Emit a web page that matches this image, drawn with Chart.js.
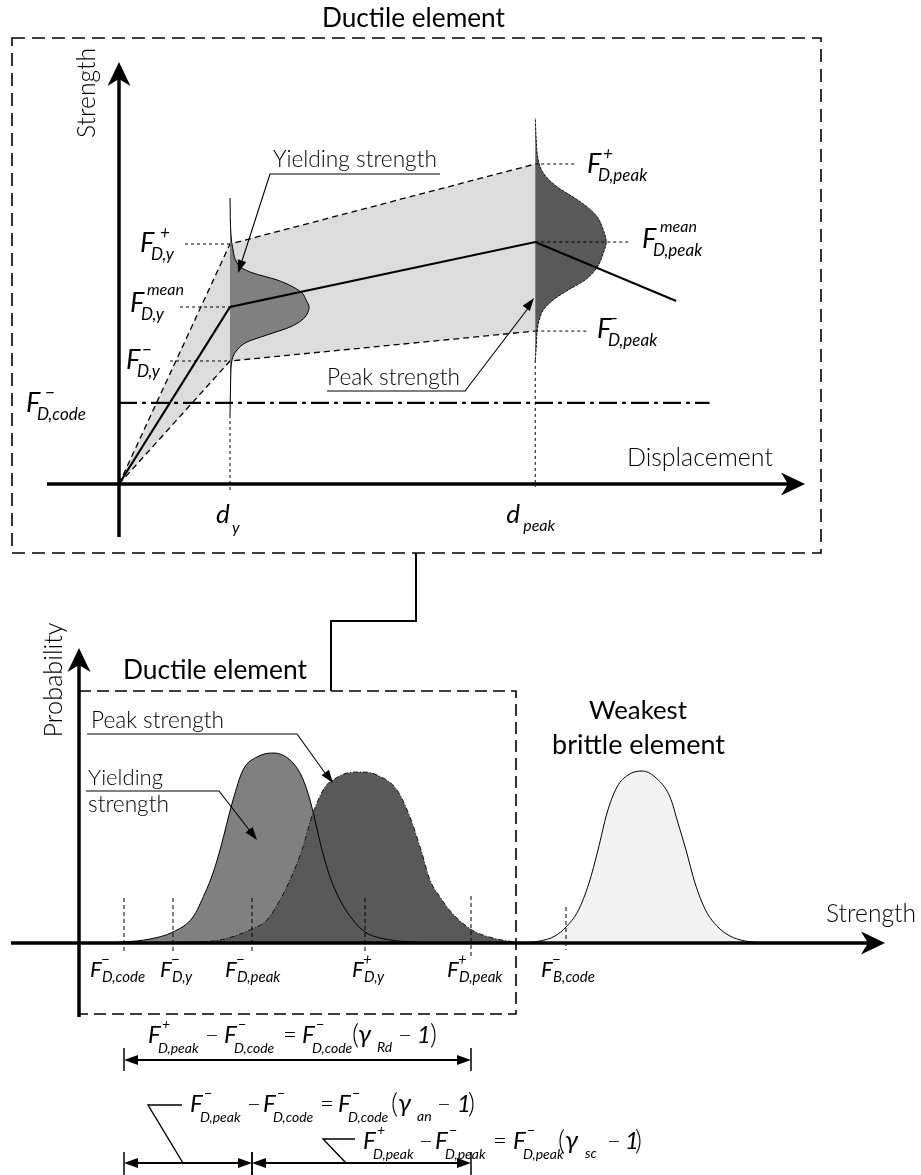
<!DOCTYPE html>
<html><head><meta charset="utf-8">
<script src="https://cdn.jsdelivr.net/npm/chart.js@4.4.1/dist/chart.umd.min.js"></script>
<style>html,body{margin:0;padding:0;background:#fff;}canvas{display:block;}</style>
</head><body>
<canvas id="c" width="921" height="1175"></canvas>
<script>
// ================= DATA =================
// --- Upper diagram: force-displacement (displacement units, strength units) ---
const dY = 1.0;            // d_y
const dPeak = 3.75;        // d_peak
const backboneDisp = [0, 1.0, 3.75, 5.02];
const backboneStrength = [0, 1.0, 1.367, 1.034];
const boundDisp = [0, 1.0, 3.75];
const upperBoundStrength = [0, 1.356, 1.808];   // F+_D,y , F+_D,peak
const lowerBoundStrength = [0, 0.695, 0.864];   // F-_D,y , F-_D,peak
const codeStrength = 0.458;                     // F-_D,code
const codeLineDisp = [0, 5.32];
// yielding-strength distribution drawn at d_y (strength level, density width)
const yieldTopLevels = [0.390,0.588,0.701,0.757,0.802,0.842,0.887,0.927,0.960,1.000,1.040,1.079,1.113,1.153,1.192,1.220,1.249,1.322,1.407,1.616];
const yieldTopWidths = [0,0.006,0.018,0.063,0.153,0.333,0.541,0.649,0.694,0.712,0.685,0.649,0.568,0.423,0.207,0.108,0.063,0.027,0.009,0];
// peak-strength distribution drawn at d_peak
const peakTopLevels = [0.701,0.774,0.870,0.927,0.983,1.040,1.096,1.153,1.226,1.305,1.367,1.435,1.508,1.565,1.621,1.678,1.757,1.831,1.944,2.068];
const peakTopWidths = [0,0.009,0.018,0.036,0.072,0.162,0.297,0.450,0.559,0.613,0.640,0.613,0.559,0.468,0.342,0.198,0.072,0.027,0.009,0];

// --- Lower diagram: probability vs strength ---
const yieldBotX = [0.21,0.44,0.71,0.94,1.14,1.26,1.34,1.41,1.54,1.64,1.78,1.94,2.11,2.23,2.31,2.38,2.43,2.51,2.61,2.74,2.86,3.01,3.31,3.61];
const yieldBotP = [0,0.005,0.02,0.055,0.13,0.25,0.35,0.465,0.715,0.865,0.93,0.95,0.915,0.83,0.715,0.57,0.465,0.33,0.215,0.115,0.055,0.025,0.005,0];
const peakBotX = [0.71,1.11,1.41,1.73,1.88,2.01,2.11,2.23,2.34,2.46,2.54,2.68,2.83,2.98,3.18,3.31,3.42,3.51,3.61,3.73,3.93,4.14,4.37,4.61];
const peakBotP = [0,0.005,0.015,0.07,0.115,0.215,0.315,0.465,0.65,0.78,0.815,0.85,0.855,0.84,0.765,0.63,0.465,0.315,0.23,0.15,0.065,0.025,0.005,0];
const brittleX = [4.37,4.61,4.76,4.87,4.99,5.10,5.19,5.28,5.38,5.49,5.63,5.76,5.91,5.99,6.07,6.16,6.27,6.39,6.51,6.66,6.91];
const brittleP = [0,0.01,0.035,0.08,0.16,0.30,0.465,0.65,0.78,0.84,0.86,0.83,0.73,0.60,0.465,0.30,0.16,0.08,0.035,0.01,0];
// characteristic strengths on the lower axis
const markerNames = ['F-D,code','F-D,y','F-D,peak','F+D,y','F+D,peak','F-B,code'];
const markerStrength = [0.45, 0.94, 1.73, 2.86, 3.92, 4.87];

// ================= LAYOUT =================
const CW = 921, CH = 1175;
const FONT = 'Lato, "Open Sans", "DejaVu Sans", sans-serif';
const MW = 400; // weight of italic math text
const topO = {x:119, y:484}, topU = {x:111, y:177};
const botO = {x:79, y:943}, botU = {x:100, y:200};

const pts = (xs, ys) => xs.map((x,i)=>({x, y:ys[i]}));
const T = {xAxisID:'xT', yAxisID:'yT'}, B = {xAxisID:'xB', yAxisID:'yB'};
const K = '#000';

const leaderTop = [
  {s:upperBoundStrength[1], from:0.595, to:dY},
  {s:backboneStrength[1], from:0.55, to:dY},
  {s:lowerBoundStrength[1], from:0.46, to:dY},
  {s:upperBoundStrength[2], from:dPeak, to:4.126},
  {s:backboneStrength[2], from:dPeak, to:4.60},
  {s:lowerBoundStrength[2], from:dPeak, to:4.216}
];
const leaderData = [];
leaderTop.forEach(l=>{leaderData.push({x:l.from,y:l.s},{x:l.to,y:l.s},{x:l.to,y:null});});
const dropData = [
  {x:dY, y:yieldTopLevels[0]}, {x:dY, y:-0.034}, {x:dY, y:null},
  {x:dPeak, y:peakTopLevels[0]}, {x:dPeak, y:-0.017}
];
const markerData = [];
markerStrength.forEach((v,i)=>{
  const top = i===4 ? 0.235 : (i===5 ? 0.18 : 0.225);
  const bot = i===4 ? -0.07 : (i===5 ? -0.035 : -0.045);
  markerData.push({x:v,y:top},{x:v,y:bot},{x:v,y:null});
});

const datasets = [
  {...T, data:pts(boundDisp, upperBoundStrength), fill:'+1', backgroundColor:'#dcdcdc', borderColor:K, borderWidth:1.3, borderDash:[6,4]},
  {...T, data:pts(boundDisp, lowerBoundStrength), fill:false, borderColor:K, borderWidth:1.3, borderDash:[6,4]},
  {...T, data:pts(codeLineDisp, [codeStrength, codeStrength]), fill:false, borderColor:K, borderWidth:2.2, borderDash:[18,5,4,5]},
  {...T, indexAxis:'y', data:yieldTopLevels.map((s,i)=>({x:dY+yieldTopWidths[i], y:s})), fill:{value:dY}, backgroundColor:'#808080', borderColor:K, borderWidth:1, cubicInterpolationMode:'monotone'},
  {...T, indexAxis:'y', data:peakTopLevels.map((s,i)=>({x:dPeak+peakTopWidths[i], y:s})), fill:{value:dPeak}, backgroundColor:'#595959', borderColor:'#111', borderWidth:1, borderDash:[3,1], cubicInterpolationMode:'monotone'},
  {...T, data:dropData, fill:false, borderColor:K, borderWidth:1, borderDash:[3,3]},
  {...T, data:leaderData, fill:false, borderColor:K, borderWidth:1, borderDash:[3,3]},
  {...T, data:pts(backboneDisp, backboneStrength), fill:false, borderColor:K, borderWidth:2.2},
  {...B, data:pts(yieldBotX, yieldBotP), fill:'origin', backgroundColor:'#808080', borderWidth:0, borderColor:'rgba(0,0,0,0)', cubicInterpolationMode:'monotone'},
  {...B, data:pts(peakBotX, peakBotP), fill:'origin', backgroundColor:'#595959', borderColor:'#111', borderWidth:1, borderDash:[5,2,1,2], cubicInterpolationMode:'monotone'},
  {...B, data:pts(yieldBotX, yieldBotP), fill:false, borderColor:K, borderWidth:1, cubicInterpolationMode:'monotone'},
  {...B, data:pts(brittleX, brittleP), fill:'origin', backgroundColor:'#f2f2f2', borderColor:K, borderWidth:1, cubicInterpolationMode:'monotone'},
  {...B, data:markerData, fill:false, borderColor:K, borderWidth:1, borderDash:[4,3]}
];
datasets.forEach((d,i)=>{ d.order = -i; d.pointRadius = 0; d.pointHoverRadius = 0; });

// ================= DRAW HELPERS =================
function fitFont(ctx, str, w, weight, italic){
  ctx.font = `${italic?'italic ':''}${weight} 100px ${FONT}`;
  const m = ctx.measureText(str).width;
  return `${italic?'italic ':''}${weight} ${(100*w/m).toFixed(2)}px ${FONT}`;
}
function txt(ctx, str, x, b, w, weight, align){
  ctx.save(); ctx.font = fitFont(ctx, str, w, weight, false);
  ctx.textAlign = align||'left'; ctx.fillStyle = '#000'; ctx.fillText(str, x, b); ctx.restore();
}
function vtxt(ctx, str, bx, cy, w, weight){
  ctx.save(); ctx.translate(bx, cy); ctx.rotate(-Math.PI/2);
  ctx.font = fitFont(ctx, str, w, weight, false); ctx.textAlign='center'; ctx.fillStyle='#000';
  ctx.fillText(str, 0, 0); ctx.restore();
}
function it(ctx, str, x, b, size, weight){
  ctx.font = `italic ${weight||MW} ${size}px ${FONT}`; ctx.fillText(str, x, b);
}
function up(ctx, str, x, b, size){
  ctx.font = `300 ${size}px ${FONT}`; ctx.fillText(str, x, b);
}
function polyline(ctx, p, w, dash){
  ctx.save(); ctx.beginPath(); ctx.lineWidth = w; ctx.strokeStyle='#000'; ctx.setLineDash(dash||[]);
  ctx.moveTo(p[0][0], p[0][1]); for (let i=1;i<p.length;i++) ctx.lineTo(p[i][0], p[i][1]);
  ctx.stroke(); ctx.restore();
}
function head(ctx, tip, from, len, hw, notch){
  const dx = tip[0]-from[0], dy = tip[1]-from[1], L = Math.hypot(dx,dy);
  const ux = dx/L, uy = dy/L, nx = -uy, ny = ux;
  const bx = tip[0]-ux*len, by = tip[1]-uy*len;
  ctx.save(); ctx.fillStyle='#000'; ctx.beginPath();
  ctx.moveTo(tip[0], tip[1]);
  ctx.lineTo(bx+nx*hw, by+ny*hw);
  ctx.lineTo(tip[0]-ux*(len-(notch||0)), tip[1]-uy*(len-(notch||0)));
  ctx.lineTo(bx-nx*hw, by-ny*hw);
  ctx.closePath(); ctx.fill(); ctx.restore();
}
function arrowAxis(ctx, from, tip){
  const dx = tip[0]-from[0], dy = tip[1]-from[1], L = Math.hypot(dx,dy);
  const end = [tip[0]-dx/L*12, tip[1]-dy/L*12];
  polyline(ctx, [from, end], 3.5);
  head(ctx, tip, from, 24, 11.5, 7);
}
function Flab(ctx, x, b, sup, sub, c){
  ctx.fillStyle='#000';
  it(ctx, 'F', x, b, c.F);
  it(ctx, sub, x+c.subDx, b+c.subDy, c.s);
  if (sup === 'mean') it(ctx, sup, x+(c.meanDx||17), b+(c.meanDy||-16), c.mean||16);
  else it(ctx, sup, x+(c.supDx), b+c.supDy, c.s);
}
function dim(ctx, x1, x2, y, t1, t2){
  polyline(ctx, [[x1+8,y],[x2-8,y]], 2);
  head(ctx, [x1,y], [x2,y], 14, 5, 0);
  head(ctx, [x2,y], [x1,y], 14, 5, 0);
  polyline(ctx, [[x1,t1],[x1,t2]], 1.5);
  polyline(ctx, [[x2,t1],[x2,t2]], 1.5);
}

const annot = {
  id:'annot',
  afterDatasetsDraw(chart){
    const ctx = chart.ctx, s = chart.scales;
    const X = v=>s.xT.getPixelForValue(v), Y = v=>s.yT.getPixelForValue(v);
    const XB = v=>s.xB.getPixelForValue(v), YB = v=>s.yB.getPixelForValue(v);
    ctx.save();
    ctx.fillStyle = '#000';
    // frames & connector
    ctx.lineWidth = 1.6; ctx.strokeStyle='#000'; ctx.setLineDash([13,7]);
    ctx.strokeRect(12, 38, 809, 515);
    ctx.setLineDash([12,6]); ctx.beginPath();
    ctx.moveTo(XB(0), 691); ctx.lineTo(516, 691); ctx.lineTo(516, 1014); ctx.lineTo(XB(0), 1014); ctx.stroke();
    ctx.setLineDash([]);
    polyline(ctx, [[416,553],[416,621],[331,621],[331,691]], 2);
    // axes
    const ox = X(0), oy = Y(0);
    arrowAxis(ctx, [ox, 537], [ox, 62]);
    arrowAxis(ctx, [47, oy], [805, oy]);
    const bx = XB(0), by = YB(0);
    arrowAxis(ctx, [bx, 1017], [bx, 648]);
    arrowAxis(ctx, [11, by], [885, by]);
    // plain texts
    txt(ctx, 'Ductile element', 322, 27, 183, 400);
    vtxt(ctx, 'Strength', 95, 93, 90, 300);
    txt(ctx, 'Displacement', 627, 466, 146, 300);
    txt(ctx, 'Yielding strength', 273, 167, 164, 300);
    txt(ctx, 'Peak strength', 327, 385, 133, 300);
    vtxt(ctx, 'Probability', 62, 680, 115, 300);
    txt(ctx, 'Ductile element', 123, 679, 184, 400);
    txt(ctx, 'Peak strength', 91, 728, 133, 300);
    txt(ctx, 'Yielding', 88, 785, 75, 300);
    txt(ctx, 'strength', 88, 812, 81, 300);
    txt(ctx, 'Weakest', 638, 719, 98, 400, 'center');
    txt(ctx, 'brittle element', 638.5, 754, 173, 400, 'center');
    txt(ctx, 'Strength', 826, 922, 90, 300);
    // callouts
    polyline(ctx, [[440,174],[270,174],[X(1.072)+3,Y(1.192)-9]], 1.1);
    head(ctx, [X(1.072),Y(1.192)], [270,174], 13, 4.5, 0);
    polyline(ctx, [[327,391],[465,391],[X(3.739)-5,Y(1.051)+9]], 1.1);
    head(ctx, [X(3.739),Y(1.051)], [465,391], 13, 4.5, 0);
    polyline(ctx, [[87,734],[297,734],[325,773]], 1.1);
    head(ctx, [333,783], [297,734], 13, 4.5, 0);
    polyline(ctx, [[86,791],[219,791],[250,831]], 1.1);
    head(ctx, [257,840], [219,791], 13, 4.5, 0);
    // d labels
    ctx.fillStyle='#000';
    it(ctx, 'd', X(dY)-14, 523, 26); it(ctx, 'y', X(dY)+2, 533, 16);
    it(ctx, 'd', X(dPeak)-29, 523, 26); it(ctx, 'peak', X(dPeak)-12, 531, 16);
    // F labels (upper)
    const ct = {F:27, s:17, subDx:11, subDy:8, supDy:-14, mean:16, meanDy:-17};
    Flab(ctx, 140, 252, '+', 'D,y', {...ct, supDx:20});
    Flab(ctx, 130, 312, 'mean', 'D,y', {...ct, meanDx:17});
    Flab(ctx, 126, 369, '−', 'D,y', {...ct, supDx:16});
    Flab(ctx, 26, 412, '−', 'D,code', {...ct, supDx:19});
    Flab(ctx, 587, 173, '+', 'D,peak', {...ct, supDx:16});
    Flab(ctx, 642, 248, 'mean', 'D,peak', {...ct, meanDx:18, meanDy:-16});
    Flab(ctx, 597, 338, '−', 'D,peak', {...ct, supDx:11});
    // F labels (lower axis)
    const cb = {F:22, s:15, subDx:12, subDy:5, supDx:11, supDy:-12};
    const lx = [90,160,225,352,447,541];
    markerNames.forEach((n,i)=>{
      const sup = n[1]==='+' ? '+' : '−';
      Flab(ctx, lx[i], 977, sup, n.slice(2), cb);
    });
    // dimension lines
    const mC = XB(markerStrength[0]), mPm = XB(markerStrength[2]), mPp = XB(markerStrength[4]);
    dim(ctx, mC, mPp, 1060, 1048, 1071);
    dim(ctx, mC, mPm, 1163, 1152, 1175);
    dim(ctx, mPm, mPp, 1163, 1152, 1175);
    polyline(ctx, [[182,1105],[148,1105],[183,1163]], 1.4);
    polyline(ctx, [[355,1139],[323,1139],[346,1163]], 1.4);
    // formulas
    const cf = {F:24, s:14, subDx:10, subDy:10, supDx:14, supDy:-14};
    function formula(b, xs, subs, gsub){
      Flab(ctx, xs[0], b, subs[0][0], subs[0][1], cf);
      up(ctx, '−', xs[1], b, 24);
      Flab(ctx, xs[2], b, subs[1][0], subs[1][1], cf);
      up(ctx, '=', xs[3], b, 24);
      Flab(ctx, xs[4], b, subs[2][0], subs[2][1], cf);
      up(ctx, '(', xs[5], b+1, 27);
      it(ctx, 'γ', xs[6], b, 26);
      it(ctx, gsub, xs[7], b+9, 14);
      up(ctx, '−', xs[8], b, 24);
      it(ctx, '1', xs[9], b, 24);
      up(ctx, ')', xs[10], b+1, 27);
    }
    formula(1043, [148,205,224,283,302,352,358,377,398,417,430], [['+','D,peak'],['−','D,code'],['−','D,code']], 'Rd');
    formula(1112, [190,247,263,320,338,391,398,417,437,457,468], [['−','D,peak'],['−','D,code'],['−','D,code']], 'an');
    formula(1149, [363,419,435,493,513,558,565,585,607,625,635], [['+','D,peak'],['−','D,peak'],['−','D,peak']], 'sc');
    ctx.restore();
  }
};

const lin = (axis, min, max) => ({type:'linear', axis, display:false, min, max, bounds:'data', grid:{display:false}, ticks:{display:false}});
new Chart(document.getElementById('c'), {
  type:'line',
  data:{datasets},
  options:{
    responsive:false, animation:false, devicePixelRatio:1,
    layout:{padding:0},
    plugins:{legend:{display:false}, tooltip:{enabled:false}, title:{display:false}},
    events:[],
    elements:{point:{radius:0}, line:{tension:0}},
    scales:{
      xT: lin('x', -topO.x/topU.x, (CW-topO.x)/topU.x),
      yT: lin('y', -(CH-topO.y)/topU.y, topO.y/topU.y),
      xB: lin('x', -botO.x/botU.x, (CW-botO.x)/botU.x),
      yB: lin('y', -(CH-botO.y)/botU.y, botO.y/botU.y)
    }
  },
  plugins:[annot]
});
</script>
</body></html>
